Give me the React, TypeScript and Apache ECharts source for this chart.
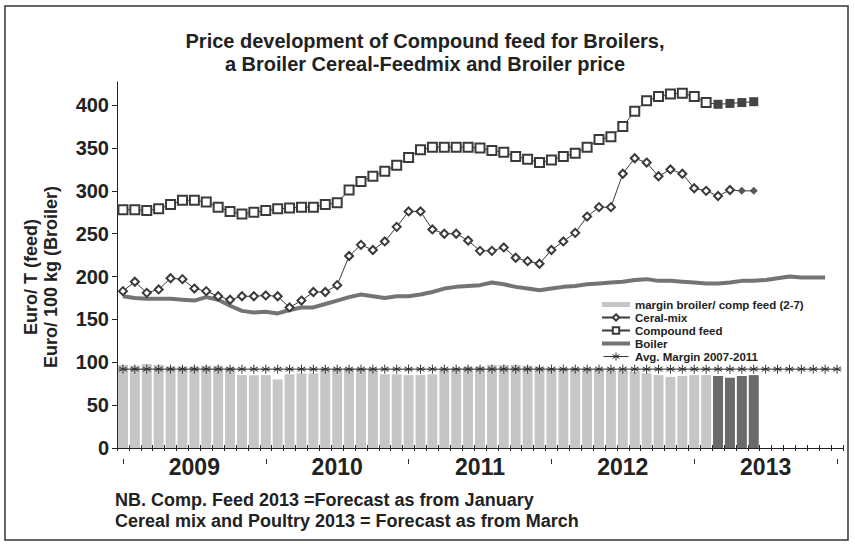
import React, { useEffect, useRef } from 'react';
import * as echarts from 'echarts';

const FONT = "'Liberation Sans', Arial, sans-serif";

const years = ['2009', '2010', '2011', '2012', '2013', '2014'];
const monthNames = ['01', '02', '03', '04', '05', '06', '07', '08', '09', '10', '11', '12'];
const allMonths: string[] = [];
years.forEach((y) => monthNames.forEach((m) => allMonths.push(`${y}-${m}`)));
const categories = allMonths.slice(0, 61); // Jan 2009 .. Jan 2014

const compoundFeed = [
  278, 278, 277, 279, 284, 289, 289, 287, 281, 276, 273, 275,
  277, 279, 280, 281, 281, 284, 286, 301, 311, 317, 323, 330,
  339, 348, 351, 351, 351, 351, 350, 347, 345, 340, 337, 333,
  336, 340, 344, 351, 360, 363, 375, 393, 405, 410, 413, 414,
  410, 403, 401, 402, 403, 404,
];

const cerealMix = [
  183, 194, 181, 185, 198, 197, 186, 183, 177, 173, 177, 177,
  178, 177, 164, 172, 182, 182, 190, 224, 237, 231, 241, 258,
  276, 276, 255, 250, 250, 242, 230, 230, 234, 222, 218, 215,
  231, 241, 251, 270, 281, 281, 320, 338, 333, 317, 325, 320,
  303, 300, 294, 301, 300, 300,
];

const broiler = [
  177, 175, 174, 174, 174, 173, 172, 176, 173, 166, 160, 158,
  159, 157, 161, 164, 164, 168, 172, 176, 179, 177, 175, 177,
  177, 179, 182, 186, 188, 189, 190, 193, 191, 188, 186, 184,
  186, 188, 189, 191, 192, 193, 194, 196, 197, 195, 195, 194,
  193, 192, 192, 193, 195, 195, 196, 198, 200, 199, 199, 199,
];

const margin = [
  97, 96, 98, 97, 95, 95, 95, 96, 96, 94, 85, 85,
  85, 80, 86, 87, 87, 92, 92, 93, 93, 92, 86, 86,
  85, 85, 86, 92, 93, 95, 95, 97, 97, 97, 96, 95,
  93, 93, 93, 92, 91, 90, 90, 89, 87, 85, 83, 84,
  85, 85, 84, 82, 84, 85,
];

const avgMargin = [
  92, 92, 92, 92, 92, 92, 92, 92, 92, 92, 92, 92,
  92, 92, 92, 92, 92, 92, 92, 92, 92, 92, 92, 92,
  92, 92, 92, 92, 92, 92, 92, 92, 92, 92, 92, 92,
  92, 92, 92, 92, 92, 92, 92, 92, 92, 92, 92, 92,
  92, 92, 92, 92, 92, 92, 92, 92, 92, 92, 92, 92,
  92,
];

const yTicks = [0, 50, 100, 150, 200, 250, 300, 350, 400];

// forecast starts (index into categories)
const barForecastFrom = 50;
const compoundForecastFrom = 50;
const cerealForecastFrom = 52;

const STAR = 'path://M0,-5V5M-4.33,-2.5L4.33,2.5M-4.33,2.5L4.33,-2.5M-5,0H5';
const STAR_LEGEND = 'path://M0,5H28M14,0.5V9.5M10.1,2.75L17.9,7.25M10.1,7.25L17.9,2.75';

export default function App() {
  const ref = useRef<HTMLDivElement>(null);
  useEffect(() => {
    if (!ref.current) return;
    const chart = echarts.init(ref.current, undefined, { renderer: 'svg' });
    const axisColor = '#222';
    const option: any = {
      animation: false,
      backgroundColor: '#ffffff',
      grid: { left: 117, right: 12, top: 82, bottom: 96 },
      legend: {
        orient: 'vertical',
        left: 596,
        top: 293,
        itemWidth: 28,
        itemHeight: 8,
        itemGap: 0,
        textStyle: { fontFamily: FONT, fontSize: 11.5, fontWeight: 'bold', color: '#222', lineHeight: 13 },
        data: [
          { name: 'margin broiler/ comp feed (2-7)', icon: 'path://M0,0H28V5H0Z' },
          'Ceral-mix',
          'Compound feed',
          { name: 'Boiler', icon: 'path://M0,0H28V4H0Z' },
          {
            name: 'Avg. Margin 2007-2011',
            icon: STAR_LEGEND,
            itemStyle: { color: 'none', borderColor: '#333', borderWidth: 1 },
          },
        ],
      },
      xAxis: [
        {
          type: 'category',
          data: categories,
          axisLine: { lineStyle: { color: axisColor, width: 1 } },
          axisTick: { show: true, interval: 0, inside: true, length: 3, lineStyle: { color: axisColor } },
          axisLabel: { show: false, interval: 0 },
          splitLine: { show: false },
        },
        {
          type: 'category',
          data: categories,
          position: 'bottom',
          axisLine: { show: false },
          axisTick: { show: true, interval: 0, length: 3, lineStyle: { color: axisColor } },
          axisLabel: {
            show: true,
            interval: (i: number) => i % 12 === 6,
            formatter: (v: string) => v.slice(0, 4),
            fontFamily: FONT,
            fontSize: 23,
            fontWeight: 'bold',
            color: '#222',
            margin: 7,
          },
          splitLine: { show: false },
        },
        {
          type: 'category',
          data: categories,
          position: 'bottom',
          offset: 11,
          axisLine: { show: false },
          axisTick: {
            show: true,
            alignWithLabel: true,
            interval: (i: number) => i % 12 === 0,
            length: 5,
            lineStyle: { color: '#333' },
          },
          axisLabel: { show: false },
          splitLine: { show: false },
        },
      ],
      yAxis: {
        type: 'value',
        min: 0,
        max: 427,
        interval: 50,
        axisLine: { show: true, lineStyle: { color: axisColor } },
        axisTick: { show: true, length: 5, lineStyle: { color: axisColor } },
        axisLabel: {
          fontFamily: FONT,
          fontSize: 20,
          fontWeight: 'bold',
          color: '#222',
          margin: 8,
          showMaxLabel: false,
          formatter: (v: number) => (yTicks.indexOf(v) >= 0 ? String(v) : ''),
        },
        splitLine: { show: false },
      },
      series: [
        {
          name: 'margin broiler/ comp feed (2-7)',
          type: 'bar',
          barCategoryGap: '16%',
          itemStyle: { color: '#c6c6c6' },
          data: margin.map((v, i) =>
            i >= barForecastFrom ? { value: v, itemStyle: { color: '#6a6a6a' } } : v
          ),
          z: 1,
        },
        {
          name: 'Boiler',
          type: 'line',
          symbol: 'none',
          lineStyle: { color: '#747474', width: 4 },
          itemStyle: { color: '#747474' },
          data: broiler,
          z: 2,
        },
        {
          name: 'Ceral-mix',
          type: 'line',
          symbol: 'emptyDiamond',
          symbolSize: 8,
          showSymbol: true,
          showAllSymbol: true,
          lineStyle: { color: '#3a3a3a', width: 1 },
          itemStyle: { color: '#3a3a3a', borderWidth: 1 },
          data: cerealMix.map((v, i) =>
            i >= cerealForecastFrom
              ? { value: v, symbol: 'diamond', itemStyle: { color: '#555' } }
              : v
          ),
          z: 3,
        },
        {
          name: 'Compound feed',
          type: 'line',
          symbol: 'emptyRect',
          symbolSize: 9,
          showSymbol: true,
          showAllSymbol: true,
          lineStyle: { color: '#3a3a3a', width: 1 },
          itemStyle: { color: '#3a3a3a', borderWidth: 1 },
          data: compoundFeed.map((v, i) =>
            i >= compoundForecastFrom
              ? { value: v, symbol: 'rect', itemStyle: { color: '#444' } }
              : v
          ),
          z: 3,
        },
        {
          name: 'Avg. Margin 2007-2011',
          type: 'line',
          symbol: STAR,
          symbolSize: 9,
          showSymbol: true,
          showAllSymbol: true,
          lineStyle: { color: '#333', width: 1 },
          itemStyle: { color: '#333', borderColor: '#333', borderWidth: 1 },
          data: avgMargin,
          z: 4,
        },
      ],
      graphic: [
        {
          type: 'rect',
          shape: { x: 5, y: 6, width: 843, height: 534 },
          style: { fill: 'none', stroke: '#333', lineWidth: 1.5 },
          silent: true,
        },
        {
          type: 'text',
          x: 425,
          y: 30,
          style: {
            text: 'Price development of Compound feed for Broilers,\na Broiler Cereal-Feedmix and Broiler price',
            fontFamily: FONT,
            fontSize: 20,
            fontWeight: 'bold',
            fill: '#222',
            align: 'center',
            verticalAlign: 'top',
            lineHeight: 22.5,
          },
        },
        {
          type: 'text',
          x: 41,
          y: 277,
          rotation: Math.PI / 2,
          style: {
            text: 'Euro/ T (feed)\nEuro/ 100 kg (Broiler)',
            fontFamily: FONT,
            fontSize: 18,
            fontWeight: 'bold',
            fill: '#222',
            align: 'center',
            verticalAlign: 'middle',
            lineHeight: 20.5,
          },
        },
        {
          type: 'text',
          x: 115,
          y: 489,
          style: {
            text: 'NB. Comp. Feed 2013 =Forecast as from January\nCereal mix and Poultry 2013 = Forecast as from March',
            fontFamily: FONT,
            fontSize: 18,
            fontWeight: 'bold',
            fill: '#222',
            align: 'left',
            verticalAlign: 'top',
            lineHeight: 21,
          },
        },
      ],
    };
    chart.setOption(option);
    return () => chart.dispose();
  }, []);
  return (
    <div
      ref={ref}
      style={{ position: 'fixed', left: 0, top: 0, width: 855, height: 544, background: '#fff' }}
    />
  );
}
